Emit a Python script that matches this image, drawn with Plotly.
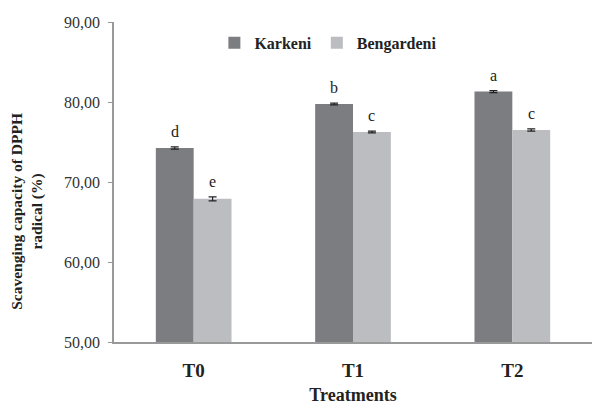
import plotly.graph_objects as go

treatments = ["T0", "T1", "T2"]
karkeni = [74.25, 79.75, 81.3]
karkeni_err = [0.15, 0.1, 0.12]
karkeni_letters = ["d", "b", "a"]
bengardeni = [67.9, 76.25, 76.5]
bengardeni_err = [0.25, 0.12, 0.15]
bengardeni_letters = ["e", "c", "c"]
y_ticks = [50, 60, 70, 80, 90]
y_tick_text = ["50,00", "60,00", "70,00", "80,00", "90,00"]

serif = "Liberation Serif, Times New Roman, serif"
dark = "#7c7d81"
light = "#bcbdc1"
positions = list(range(len(treatments)))

fig = go.Figure()
fig.add_trace(go.Bar(
    name="Karkeni", x=positions, y=karkeni, marker_color=dark,
    marker_line_width=0,
    error_y=dict(type="data", array=karkeni_err, color="#222", thickness=1.2, width=4),
))
fig.add_trace(go.Bar(
    name="Bengardeni", x=positions, y=bengardeni, marker_color=light,
    marker_line_width=0,
    error_y=dict(type="data", array=bengardeni_err, color="#222", thickness=1.2, width=4),
))

# significance letters above each bar
offset = 0.119
for i in positions:
    for vals, errs, letters, dx in ((karkeni, karkeni_err, karkeni_letters, -offset),
                                    (bengardeni, bengardeni_err, bengardeni_letters, offset)):
        fig.add_annotation(
            x=i + dx, y=vals[i] + errs[i], text=letters[i], showarrow=False,
            yanchor="bottom", yshift=5,
            font=dict(family=serif, size=16, color="#222"),
        )

fig.update_layout(
    width=592, height=405,
    margin=dict(l=114, r=0, t=22, b=63),
    plot_bgcolor="white", paper_bgcolor="white",
    barmode="group", bargap=0.525, bargroupgap=0,
    showlegend=True,
    legend=dict(
        orientation="h", x=0.21, y=0.935, xanchor="left", yanchor="middle",
        font=dict(family=serif, size=16, color="#222", weight="bold"),
        itemwidth=30, tracegroupgap=0, bgcolor="rgba(0,0,0,0)",
    ),
    font=dict(family=serif, color="#222"),
)
fig.update_xaxes(
    type="linear", range=[-0.5, 2.5],
    tickvals=positions, ticktext=treatments,
    tickfont=dict(family=serif, size=19, color="#222", weight="bold"),
    showline=True, linecolor="#999", linewidth=1.5, ticks="",
    ticklabelstandoff=10, automargin=False,
    showgrid=False, zeroline=False,
    title=dict(text="Treatments", font=dict(family=serif, size=18, color="#222", weight="bold"), standoff=12),
)
fig.update_yaxes(
    range=[50, 90], tickvals=y_ticks, ticktext=y_tick_text,
    tickfont=dict(family=serif, size=16, color="#333"),
    showline=True, linecolor="#999", linewidth=1.5,
    ticks="outside", ticklen=4, tickcolor="#999", ticklabelstandoff=5,
    showgrid=False, zeroline=False,
)
fig.add_annotation(
    xref="paper", yref="paper", x=-0.226, y=0.41, textangle=-90,
    text="Scavenging capacity of DPPH<br>radical (%)", showarrow=False,
    font=dict(family=serif, size=15.5, color="#222", weight="bold"),
)

fig.write_html("out.html")
